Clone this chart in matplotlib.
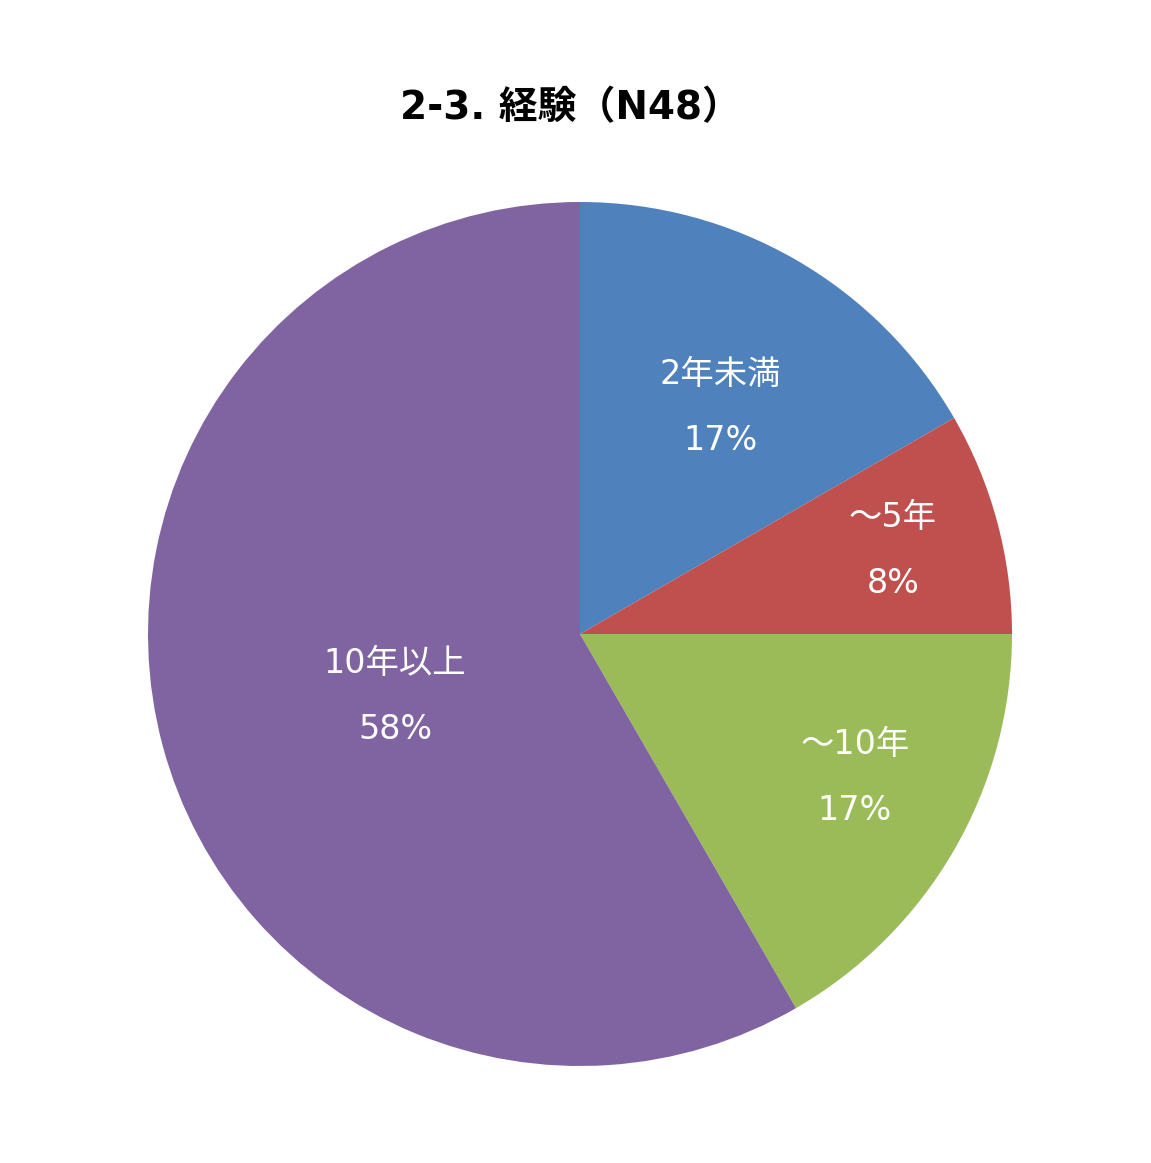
import matplotlib.pyplot as plt
import numpy as np

# 英数字は DejaVu Sans (Meiryo に近い字形)、漢字は Noto Sans CJK JP
plt.rcParams['font.family'] = ['DejaVu Sans', 'Noto Sans CJK JP']

# データ (N=48)
categories = ['2年未満', '～5年', '～10年', '10年以上']
counts = [8, 4, 8, 28]
percent_labels = ['17%', '8%', '17%', '58%']
colors = ['#4F81BD', '#C0504D', '#9BBB59', '#8064A2']
label_radius = [0.617, 0.75, 0.717, 0.452]  # ラベルの位置 (半径比)
label_shift = [-1.7, 0, 2.5, 3.8]           # 角度の微調整 (度)

fig = plt.figure(figsize=(11.51, 11.63), dpi=100)
ax = fig.add_axes([148 / 1151, 97 / 1163, 864 / 1151, 864 / 1163])

wedges, _ = ax.pie(counts, colors=colors, startangle=90, counterclock=False,
                   radius=1.0, wedgeprops=dict(linewidth=0))

for w, name, pct, r, s in zip(wedges, categories, percent_labels,
                              label_radius, label_shift):
    ang = np.deg2rad((w.theta1 + w.theta2) / 2 + s)
    x, y = r * np.cos(ang), r * np.sin(ang)
    ax.text(x, y, f'{name}\n\n{pct}', ha='center', va='center',
            color='white', fontsize=24, linespacing=1.0)

ax.set_xlim(-1, 1)
ax.set_ylim(-1, 1)
ax.set_aspect('equal')
ax.axis('off')

fig.text(570 / 1151, 1 - 108 / 1163, '2-3. 経験（N48）', ha='center', va='center',
         fontsize=28, fontweight='bold')

plt.savefig('out.png', dpi=100, facecolor='white')
